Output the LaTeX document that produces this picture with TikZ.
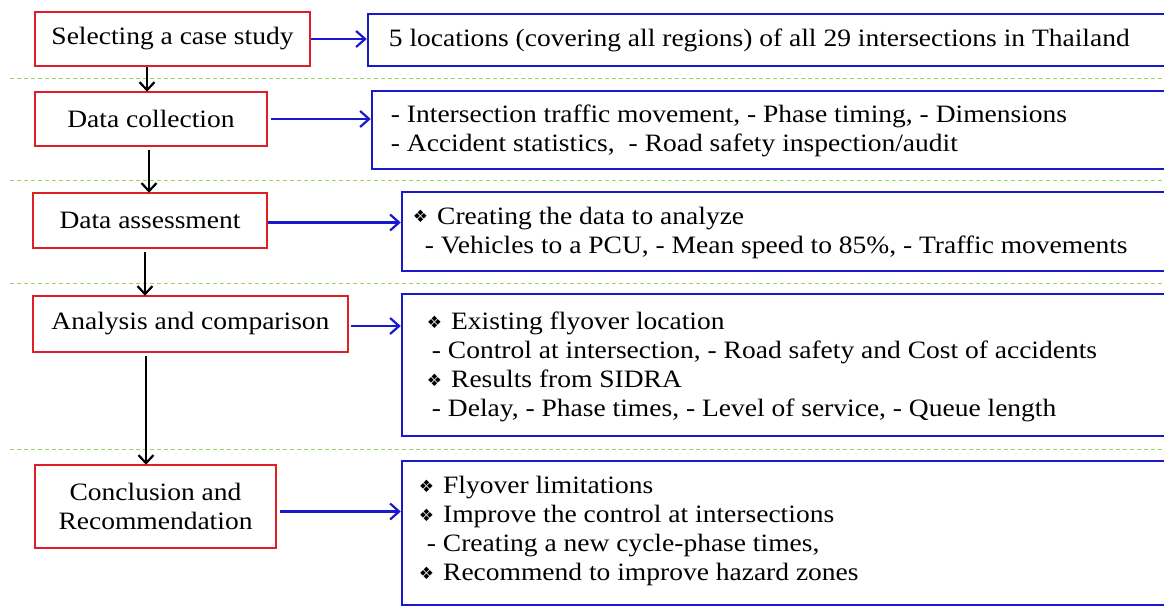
\documentclass[tikz,border=0pt]{standalone}
\usepackage{fontspec}
\setmainfont{Liberation Serif}[FakeStretch=1.1]
\newfontfamily\symfont{DejaVu Sans}
\usetikzlibrary{arrows.meta}
\definecolor{boxred}{RGB}{222,32,38}
\definecolor{boxblue}{RGB}{24,24,204}
\definecolor{sepgreen}{RGB}{150,214,92}
\newcommand{\bul}{\raisebox{1.5pt}{\symfont\fontsize{17}{17}\selectfont ❖}\hspace{9pt}}
\begin{document}
\begin{tikzpicture}[x=1pt,y=-1pt,
  stepbox/.style={draw=boxred,line width=2.6pt,inner sep=0pt,align=center,
    font=\fontsize{25}{29}\selectfont},
  infobox/.style={draw=boxblue,line width=2.5pt,inner sep=0pt},
  info/.style={anchor=west,inner sep=0pt,align=left,font=\fontsize{25}{29}\selectfont},
  down/.style={-{Straight Barb[length=8pt,width=15pt,line width=2.2pt]},line width=2.2pt,black},
  link/.style={-{Straight Barb[length=9pt,width=16pt,line width=2.2pt]},line width=2.2pt,boxblue},
  sepline/.style={sepgreen,line width=1pt,dash pattern=on 4pt off 3pt}]
\clip (0,0) rectangle (1164,607);
\fill[white] (0,0) rectangle (1164,607);
% separators
\foreach \yy/\nm in {79/a,180/b,283/c,449/d}{
  \coordinate (l\nm) at (10,\yy);
  \coordinate (r\nm) at (1164,\yy);
  \draw[sepline] (l\nm) -- (r\nm);
}
% left step boxes
\node[stepbox,minimum width=275pt,minimum height=54pt] (s1) at (172.5,39) {Selecting a case study};
\node[stepbox,minimum width=232pt,minimum height=54pt] (s2) at (151,119) {Data collection};
\node[stepbox,minimum width=234pt,minimum height=55pt] (s3) at (150,220.5) {Data assessment};
\node[stepbox,minimum width=315pt,minimum height=56pt] (s4) at (190.5,324) {Analysis and comparison};
\node[stepbox,minimum width=241pt,minimum height=83pt] (s5) at (155.5,506.5) {Conclusion and\\Recommendation};
% right info boxes (extend beyond right edge)
\node[infobox,minimum width=812pt,minimum height=52pt] (r1) at (774,40) {};
\node[infobox,minimum width=808pt,minimum height=78pt] (r2) at (776,130) {};
\node[infobox,minimum width=780pt,minimum height=79pt] (r3) at (792,231.5) {};
\node[infobox,minimum width=780pt,minimum height=142pt] (r4) at (792,365) {};
\node[infobox,minimum width=780pt,minimum height=144pt] (r5) at (792,533) {};
% texts
\node[info] (t1) at ([xshift=22pt]r1.west) {5 locations (covering all regions) of all 29 intersections in Thailand};
\node[info] (t2) at ([xshift=20pt,yshift=-1pt]r2.west) {- Intersection traffic movement, - Phase timing, - Dimensions\\- Accident statistics,\hspace{14pt}- Road safety inspection/audit};
\node[info] (t3) at ([xshift=12pt,yshift=-1pt]r3.west) {\bul Creating the data to analyze\\\hspace{12pt}- Vehicles to a PCU, - Mean speed to 85\%, - Traffic movements};
\node[info] (t4) at ([xshift=26pt,yshift=-2pt]r4.west) {\bul Existing flyover location\\\hspace{5pt}- Control at intersection, - Road safety and Cost of accidents\\\bul Results from SIDRA\\\hspace{5pt}- Delay, - Phase times, - Level of service, - Queue length};
\node[info] (t5) at ([xshift=18pt,yshift=2pt]r5.west) {\bul Flyover limitations\\\bul Improve the control at intersections\\\hspace{8pt}- Creating a new cycle-phase times,\\\bul Recommend to improve hazard zones};
% vertical arrows
\coordinate (ax1) at (147,0);
\coordinate (ax2) at (149,0);
\coordinate (ax3) at (145,0);
\coordinate (ax4) at (146,0);
\draw[down] (s1.south -| ax1) -- ([yshift=-1pt]s2.north -| ax1);
\draw[down,shorten <=3pt] (s2.south -| ax2) -- ([yshift=-1pt]s3.north -| ax2);
\draw[down,shorten <=3pt] (s3.south -| ax3) -- ([yshift=-1pt]s4.north -| ax3);
\draw[down,shorten <=3pt] (s4.south -| ax4) -- ([yshift=-1pt]s5.north -| ax4);
% horizontal links
\draw[link] (s1.east) -- (s1.east -| r1.west);
\draw[link,shorten <=3pt] (s2.east) -- (s2.east -| r2.west);
\draw[link] ([yshift=-2pt]s3.east) -- ([yshift=-2pt]s3.east -| r3.west);
\draw[link,shorten <=2pt] ([yshift=-2pt]s4.east) -- ([yshift=-2pt]s4.east -| r4.west);
\draw[link,shorten <=3pt] ([yshift=-5pt]s5.east) -- ([yshift=-5pt]s5.east -| r5.west);
\end{tikzpicture}
\end{document}
